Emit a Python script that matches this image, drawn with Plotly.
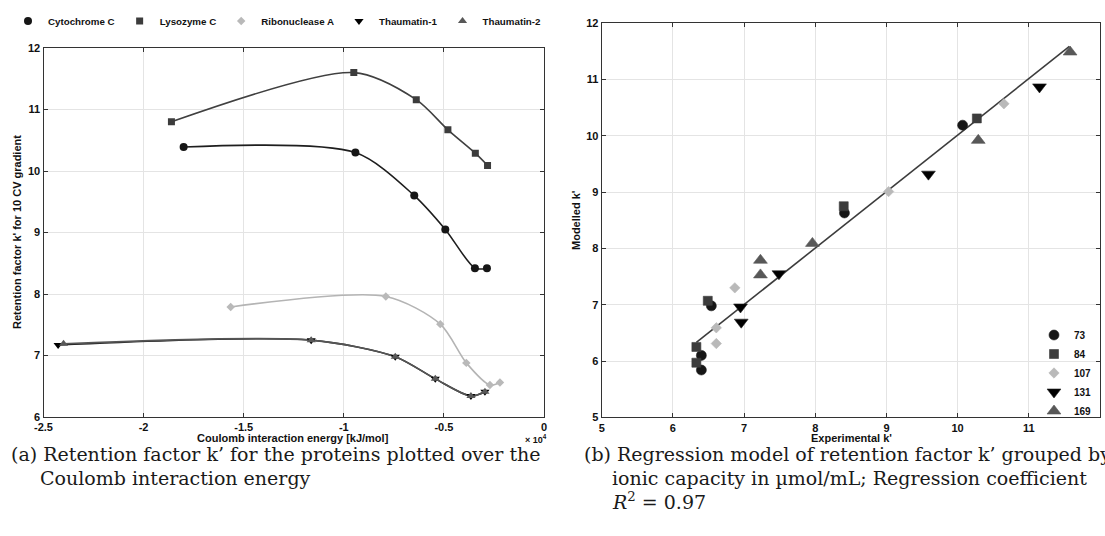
import plotly.graph_objects as go

# ---------------- data: panel (a) ----------------
# Coulomb interaction energy [kJ/mol] and retention factor k'
cyto_energy = [-18000, -9420, -6480, -4930, -3450, -2850]
cyto_k = [10.39, 10.30, 9.60, 9.05, 8.42, 8.42]
lyso_energy = [-18610, -9500, -6380, -4800, -3430, -2820]
lyso_k = [10.80, 11.60, 11.16, 10.67, 10.29, 10.09]
ribo_energy = [-15650, -7900, -5180, -3880, -2700, -2200]
ribo_k = [7.79, 7.96, 7.51, 6.88, 6.52, 6.56]
thau1_energy = [-24270, -11630, -7430, -5430, -3650, -2950]
thau1_k = [7.17, 7.25, 6.98, 6.62, 6.34, 6.41]
thau2_energy = [-24000, -11630, -7430, -5430, -3650, -2950]
thau2_k = [7.19, 7.25, 6.98, 6.62, 6.34, 6.41]

protein_names = ["Cytochrome C", "Lysozyme C", "Ribonuclease A", "Thaumatin-1", "Thaumatin-2"]
energy_ticks = [-25000, -20000, -15000, -10000, -5000, 0]
energy_ticktext = ["-2.5", "-2", "-1.5", "-1", "-0.5", "0"]

# ---------------- data: panel (b) ----------------
# experimental vs modelled k', grouped by ionic capacity (µmol/mL)
capacity_labels = ["73", "84", "107", "131", "169"]
exp_73 = [6.40, 6.40, 6.54, 8.41, 10.07]
mod_73 = [5.84, 6.10, 6.98, 8.63, 10.19]
exp_84 = [6.33, 6.33, 6.49, 8.40, 10.27]
mod_84 = [5.97, 6.25, 7.07, 8.75, 10.31]
exp_107 = [6.61, 6.61, 6.87, 9.03, 10.65]
mod_107 = [6.31, 6.59, 7.30, 9.01, 10.57]
exp_131 = [6.96, 6.95, 7.49, 9.59, 11.15]
mod_131 = [6.69, 6.96, 7.55, 9.32, 10.87]
exp_169 = [7.23, 7.23, 7.96, 10.29, 11.58]
mod_169 = [7.53, 7.79, 8.09, 9.92, 11.49]
fit_exp = [6.33, 11.57]
fit_mod = [6.33, 11.59]

# ---------------- styling ----------------
W, H = 1105, 536
FONT = "Liberation Sans"
SERIF = "DejaVu Serif"


def px(v):
    return v / W


def py(v):
    return 1 - v / H


sym = ["circle", "square", "diamond", "triangle-down", "triangle-up"]
mcol = ["#161616", "#3c3c3c", "#b9b9b9", "#000000", "#585858"]
lcol = ["#1e1e1e", "#404040", "#b4b4b4", "#202020", "#555555"]
msize_a = [8, 7, 6.5, 8, 8]
msize_b = [10, 9, 8, 12, 12]

fig = go.Figure()

series_a = [
    (cyto_energy, cyto_k),
    (lyso_energy, lyso_k),
    (ribo_energy, ribo_k),
    (thau1_energy, thau1_k),
    (thau2_energy, thau2_k),
]
for i, (ex, ky) in enumerate(series_a):
    fig.add_trace(go.Scatter(
        x=ex, y=ky, mode="lines", showlegend=False, hoverinfo="skip",
        line=dict(shape="spline", smoothing=0.8, color=lcol[i], width=1.6),
        xaxis="x", yaxis="y"))
for i, (ex, ky) in enumerate(series_a):
    fig.add_trace(go.Scatter(
        x=ex, y=ky, mode="markers", name=protein_names[i], legend="legend",
        marker=dict(symbol=sym[i], size=msize_a[i], color=mcol[i], line=dict(width=0)),
        xaxis="x", yaxis="y"))

series_b = [
    (exp_73, mod_73), (exp_84, mod_84), (exp_107, mod_107),
    (exp_131, mod_131), (exp_169, mod_169),
]
fig.add_trace(go.Scatter(
    x=fit_exp, y=fit_mod, mode="lines", showlegend=False,
    line=dict(color="#3c3c3c", width=1.6), xaxis="x2", yaxis="y2"))
for i, (ex, mo) in enumerate(series_b):
    fig.add_trace(go.Scatter(
        x=ex, y=mo, mode="markers", name=capacity_labels[i], legend="legend2",
        marker=dict(symbol=sym[i], size=msize_b[i], color=mcol[i],
                    line=dict(width=0.6, color="#222222" if i in (0, 3) else mcol[i])),
        xaxis="x2", yaxis="y2"))

axis_common = dict(
    showline=True, linecolor="#333333", linewidth=1.2, mirror="ticks",
    ticks="inside", ticklen=4, tickcolor="#333333", tickwidth=1,
    showgrid=True, gridcolor="#e4e4e4", gridwidth=1, zeroline=False,
    automargin=False,
    tickfont=dict(family=FONT, size=11, color="#111111", weight="bold"),
)

fig.update_layout(
    template="none",
    width=W, height=H,
    margin=dict(l=0, r=0, t=0, b=0, pad=0),
    paper_bgcolor="white", plot_bgcolor="white",
    xaxis=dict(axis_common, domain=[px(43.5), px(544)], range=[-25000, 0],
               tickvals=energy_ticks, ticktext=energy_ticktext, anchor="y"),
    yaxis=dict(axis_common, domain=[py(417), py(48)], range=[6, 12], dtick=1, anchor="x"),
    xaxis2=dict(axis_common, domain=[px(601.7), px(1100)], range=[5, 12], dtick=1, anchor="y2"),
    yaxis2=dict(axis_common, domain=[py(417.3), py(23.3)], range=[5, 12], dtick=1, anchor="x2"),
    legend=dict(orientation="h", x=px(8), xanchor="left", y=py(21), yanchor="middle",
                font=dict(family=FONT, size=9.75, color="#111111", weight="bold"),
                bgcolor="rgba(0,0,0,0)", borderwidth=0, itemsizing="trace", traceorder="normal"),
    legend2=dict(orientation="v", x=px(1034), xanchor="left", y=py(373), yanchor="middle",
                 font=dict(family=FONT, size=10, color="#111111", weight="bold"),
                 bgcolor="rgba(0,0,0,0)", borderwidth=0, itemsizing="trace", traceorder="normal"),
    showlegend=True,
)

ann = []
bold = dict(family=FONT, size=11, color="#111111", weight="bold")
ann.append(dict(text="Coulomb interaction energy [kJ/mol]", x=px(293), y=py(438),
                xanchor="center", yanchor="middle", font=bold))
ann.append(dict(text="× 10<sup>4</sup>", x=px(536), y=py(439),
                xanchor="center", yanchor="middle", font=dict(bold, size=9)))
ann.append(dict(text="Retention factor k' for 10 CV gradient", x=px(17), y=py(232),
                xanchor="center", yanchor="middle", textangle=-90, font=bold))
ann.append(dict(text="Experimental k'", x=px(851), y=py(438),
                xanchor="center", yanchor="middle", font=bold))
ann.append(dict(text="Modelled k'", x=px(576), y=py(220),
                xanchor="center", yanchor="middle", textangle=-90, font=bold))

cap = dict(family=SERIF, size=19, color="#1a1a1a")
ann.append(dict(text="(a) Retention factor k’ for the proteins plotted over the",
                x=px(9), y=py(454), xanchor="left", yanchor="middle", font=cap))
ann.append(dict(text="Coulomb interaction energy",
                x=px(38), y=py(478), xanchor="left", yanchor="middle", font=cap))
ann.append(dict(text="(b) Regression model of retention factor k’ grouped by",
                x=px(582), y=py(454), xanchor="left", yanchor="middle", font=cap))
ann.append(dict(text="ionic capacity in µmol/mL; Regression coefficient",
                x=px(610), y=py(478), xanchor="left", yanchor="middle", font=cap))
ann.append(dict(text="<i>R</i><sup>2</sup> = 0.97",
                x=px(610), y=py(501), xanchor="left", yanchor="middle", font=cap))

for a in ann:
    a.update(xref="paper", yref="paper", showarrow=False)
fig.update_layout(annotations=ann)

fig.write_html("out.html")
